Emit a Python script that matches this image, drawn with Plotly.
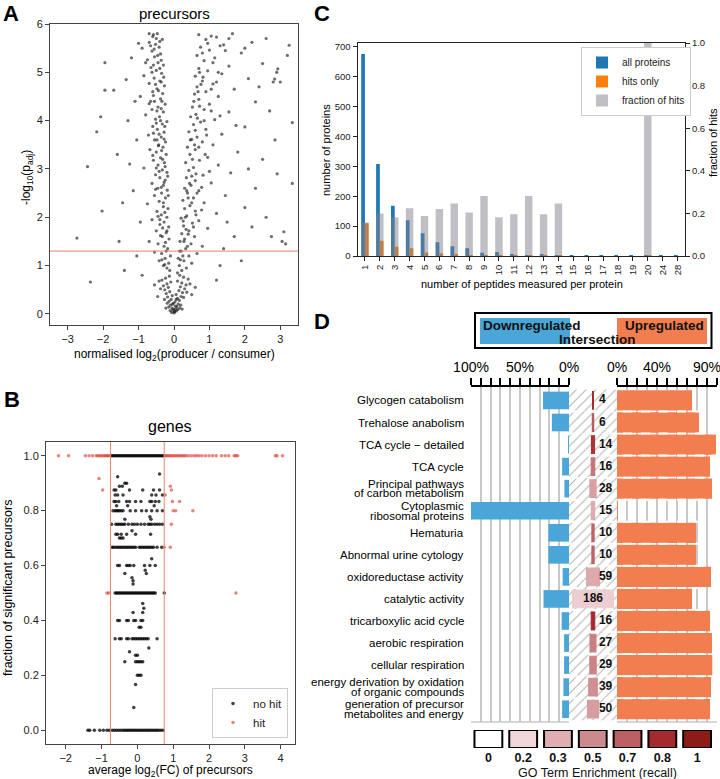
import plotly.graph_objects as go
from plotly.colors import sample_colorscale

# ---------------- panel A: precursors volcano ----------------
base_cluster = [
    (0.0, 0.02), (0.02, 0.05), (-0.03, 0.08), (0.05, 0.1), (-0.06, 0.12), (0.08, 0.15), (-0.1, 0.18),
    (0.12, 0.2), (-0.02, 0.22), (0.03, 0.25), (-0.14, 0.26), (0.15, 0.28), (-0.08, 0.3), (0.1, 0.32),
    (-0.18, 0.35), (0.2, 0.36), (-0.05, 0.38), (0.06, 0.4), (-0.22, 0.42), (0.24, 0.44), (-0.12, 0.46),
    (0.14, 0.48), (-0.26, 0.5), (0.3, 0.52), (-0.16, 0.55), (0.18, 0.56), (-0.3, 0.58), (0.34, 0.6),
    (-0.2, 0.62), (0.22, 0.64), (-0.09, 0.66), (0.1, 0.68), (-0.34, 0.7), (0.4, 0.72), (-0.24, 0.74),
    (0.27, 0.76), (-0.13, 0.78), (0.16, 0.8), (0.01, 0.04), (-0.01, 0.1), (0.04, 0.16), (-0.04, 0.2),
    (0.07, 0.06), (-0.07, 0.03), (0.11, 0.09), (-0.11, 0.07), (0.16, 0.12), (-0.15, 0.14), (0.19, 0.18),
    (-0.19, 0.22), (0.23, 0.1), (-0.23, 0.12), (0.06, 0.3), (-0.27, 0.3), (0.27, 0.34), (0.36, 0.45),
    (-0.38, 0.52), (0.45, 0.62), (-0.42, 0.68), (0.5, 0.4), (-0.46, 0.36), (0.6, 0.55), (-0.55, 0.6),
]
left_arm = [
    (-0.12, 0.9), (-0.2, 0.95), (-0.3, 1.0), (-0.15, 1.05), (-0.42, 1.1), (-0.25, 1.15), (-0.1, 1.2),
    (-0.35, 1.25), (-0.55, 1.28), (-0.18, 1.35), (-0.28, 1.4), (-0.45, 1.45), (-0.7, 1.5),
    (-0.14, 1.55), (-0.33, 1.6), (-0.22, 1.68), (-0.5, 1.72), (-0.15, 1.8), (-0.4, 1.85), (-0.28, 1.9),
    (-0.62, 1.95), (-0.2, 2.0), (-0.36, 2.05), (-0.48, 2.12), (-0.17, 2.18), (-0.3, 2.22), (-0.75, 2.28),
    (-0.42, 2.33), (-0.24, 2.4), (-0.55, 2.45), (-0.35, 2.5),
    (-0.19, 2.56), (-0.46, 2.6), (-0.3, 2.66), (-0.62, 2.7), (-0.25, 2.77), (-0.4, 2.82), (-0.52, 2.88),
    (-0.2, 2.93), (-0.33, 2.98), (-0.85, 3.02), (-0.45, 3.08), (-0.27, 3.13), (-0.58, 3.18), (-0.38, 3.23),
    (-0.22, 3.3), (-0.5, 3.35), (-0.68, 3.4), (-0.31, 3.45), (-0.43, 3.5),
    (-0.24, 3.56), (-0.55, 3.6), (-0.36, 3.66), (-0.72, 3.7), (-0.28, 3.76), (-0.47, 3.82), (-0.6, 3.88),
    (-0.33, 3.93), (-0.2, 3.98), (-0.52, 4.03), (-0.41, 4.08), (-0.8, 4.12), (-0.3, 4.18), (-0.62, 4.23),
    (-0.45, 4.28), (-0.25, 4.34), (-0.55, 4.4), (-0.38, 4.45), (-0.95, 4.5),
    (-0.32, 4.56), (-0.6, 4.6), (-0.48, 4.66), (-0.27, 4.72), (-0.7, 4.77), (-0.4, 4.82), (-0.56, 4.88),
    (-0.85, 4.93), (-0.35, 4.98), (-0.5, 5.04), (-0.65, 5.1), (-0.3, 5.15), (-0.45, 5.2), (-0.75, 5.26),
    (-0.55, 5.32), (-0.38, 5.38), (-0.62, 5.44), (-0.9, 5.5), (-0.42, 5.52), (-0.52, 5.58), (-0.7, 5.62),
    (-0.33, 5.68), (-0.6, 5.74), (-0.47, 5.8),
    (-1.05, 1.2), (-0.95, 1.9), (-1.15, 2.55), (-1.25, 3.1), (-1.05, 3.6), (-1.3, 4.0), (-1.1, 4.4),
    (-1.35, 4.85), (-1.2, 5.3), (-1.0, 5.6), (-1.45, 2.3), (-1.55, 1.5), (-1.6, 3.3), (-1.4, 0.9), (-0.9, 0.8),
    (-0.26, 1.02), (-0.38, 1.62), (-0.3, 2.3), (-0.42, 2.95), (-0.35, 3.38), (-0.5, 3.95), (-0.58, 4.52),
    (-0.4, 5.08), (-0.66, 5.55), (-0.22, 1.3), (-0.45, 2.02), (-0.28, 2.72), (-0.6, 3.28), (-0.42, 3.72),
    (-0.36, 4.25), (-0.52, 4.75), (-0.8, 5.2), (-0.5, 5.7), (-0.32, 1.78), (-0.52, 2.58), (-0.48, 3.6),
    (-0.7, 4.35), (-0.62, 5.0), (-0.58, 5.78), (-0.18, 2.85), (-0.26, 3.88), (-0.29, 4.9),
    (-0.34, 1.12), (-0.24, 1.48), (-0.4, 1.95), (-0.26, 2.1), (-0.36, 2.62), (-0.5, 3.02), (-0.32, 3.2),
    (-0.44, 3.48), (-0.58, 3.74), (-0.38, 4.0), (-0.48, 4.2), (-0.66, 4.4), (-0.44, 4.62), (-0.36, 4.8),
    (-0.58, 5.15), (-0.46, 5.35), (-0.56, 5.48), (-0.4, 5.64), (-0.7, 5.8), (-0.2, 1.72), (-0.16, 2.45),
    (-0.25, 3.05), (-0.28, 3.62), (-0.34, 4.4), (-0.36, 5.25),
]
right_arm = [
    (0.1, 0.85), (0.22, 0.9), (0.35, 0.95), (0.15, 1.0), (0.5, 1.05), (0.28, 1.1), (0.12, 1.15),
    (0.42, 1.2), (0.65, 1.25), (0.2, 1.3), (0.33, 1.35), (0.8, 1.4), (0.48, 1.45), (0.17, 1.5),
    (0.3, 1.55), (0.58, 1.6), (0.22, 1.66), (0.42, 1.72), (0.95, 1.77), (0.27, 1.82), (0.52, 1.88),
    (0.7, 1.93), (0.2, 1.98), (0.36, 2.03), (1.2, 2.08), (0.6, 2.13), (0.3, 2.18), (0.45, 2.24),
    (0.85, 2.3), (0.25, 2.35), (0.55, 2.4), (1.45, 2.45), (0.38, 2.5),
    (0.7, 2.55), (0.3, 2.6), (0.48, 2.66), (1.05, 2.71), (0.6, 2.76), (0.35, 2.82), (0.82, 2.87),
    (1.6, 2.92), (0.42, 2.97), (0.55, 3.03), (1.25, 3.08), (0.33, 3.13), (0.72, 3.18), (0.95, 3.24),
    (0.45, 3.3), (1.8, 3.35), (0.6, 3.4), (0.38, 3.45), (1.1, 3.5),
    (0.8, 3.56), (0.5, 3.61), (0.65, 3.66), (1.35, 3.72), (0.42, 3.77), (0.9, 3.82), (2.0, 3.87),
    (0.55, 3.92), (0.75, 3.97), (1.15, 4.02), (0.47, 4.08), (0.62, 4.13), (1.55, 4.18), (0.85, 4.23),
    (0.52, 4.28), (1.0, 4.34), (2.3, 4.39), (0.7, 4.44), (1.25, 4.5),
    (0.58, 4.55), (0.9, 4.6), (1.7, 4.65), (0.65, 4.7), (1.1, 4.76), (0.8, 4.82), (2.1, 4.87),
    (0.6, 4.92), (1.35, 4.97), (0.95, 5.03), (0.7, 5.08), (1.55, 5.13), (2.5, 5.18), (0.85, 5.24),
    (1.15, 5.3), (0.65, 5.35), (1.9, 5.4), (1.0, 5.46), (0.75, 5.52), (1.4, 5.57), (2.2, 5.62),
    (0.9, 5.68), (1.2, 5.73), (0.7, 5.78), (1.65, 5.8), (2.6, 5.7),
    (1.3, 1.0), (1.7, 1.6), (2.0, 2.2), (2.3, 2.6), (1.4, 1.35), (2.5, 3.2), (2.1, 3.0), (2.7, 4.2),
    (2.4, 4.7), (2.0, 5.5), (1.75, 3.9), (1.5, 1.9), (1.9, 1.1), (1.2, 0.7), (2.2, 1.8), (2.9, 5.0),
    (2.8, 4.8), (2.6, 2.0), (2.75, 1.6), (3.1, 1.7), (3.05, 1.5), (2.85, 3.6),
    (0.25, 1.2), (0.4, 1.65), (0.5, 2.3), (0.62, 2.9), (0.7, 3.45), (0.85, 4.0), (1.05, 4.65),
    (1.1, 5.2), (0.38, 1.4), (0.32, 2.0), (0.44, 2.7), (0.52, 3.2), (0.6, 3.8), (0.72, 4.3),
    (0.82, 4.9), (0.95, 5.6), (0.18, 1.12), (0.28, 1.5), (0.65, 2.5), (0.88, 3.3), (1.3, 4.1),
    (1.25, 5.0), (1.55, 5.7), (0.55, 1.8), (0.78, 2.15), (1.0, 2.95), (0.68, 4.6), (1.45, 5.45),
    (0.34, 1.75), (0.4, 2.4), (0.5, 2.85), (0.58, 3.5), (0.66, 4.05), (0.76, 4.75), (0.8, 5.4),
    (0.26, 1.92), (0.36, 2.55), (0.46, 3.6), (0.56, 4.4), (0.72, 5.0), (1.05, 5.75), (0.16, 1.3),
    (0.62, 2.05), (0.78, 2.62), (0.92, 3.7), (1.05, 4.2), (1.2, 4.8), (1.3, 5.55),
]
outliers_a = [
    (-2.74, 1.57), (-2.44, 3.05), (-2.36, 0.66), (-2.03, 2.13), (-2.07, 4.08), (-2.18, 3.77),
    (-1.95, 4.63), (-1.7, 4.63), (-1.95, 5.2), (3.34, 3.96), (3.34, 2.7), (3.25, 5.56), (2.93, 5.07),
    (2.84, 4.86), (2.91, 2.9), (3.2, 5.35), (3.0, 4.8), (3.15, 1.45),
]
padj_cutoff = 1.3

# ---------------- panel B: genes (fraction of significant precursors) ----------------
nohit_rows = [
    (1.0, [-0.72, -0.68, -0.64, -0.6, -0.56, -0.52, -0.48, -0.44, -0.4, -0.36, -0.32, -0.28, -0.24, -0.2,
           -0.16, -0.12, -0.08, -0.04, 0.0, 0.04, 0.08, 0.12, 0.16, 0.2, 0.24, 0.28, 0.32, 0.36, 0.4,
           0.44, 0.48, 0.52, 0.56, 0.6, 0.64, 0.68, 0.72]),
    (0.933, [0.62]), (0.923, [-0.55]), (0.9, [-0.35, -0.3]), (0.889, [-0.5, -0.42]),
    (0.875, [-0.65, -0.6, -0.22, 0.15, 0.45, 0.62]),
    (0.857, [-0.62, -0.55, -0.4, 0.4, 0.52, 0.7]),
    (0.833, [-0.65, -0.6, -0.52, -0.3, -0.22, -0.05, 0.1, 0.35, 0.4, 0.5, 0.6]),
    (0.818, [-0.58, -0.27, 0.47]),
    (0.8, [-0.68, -0.62, -0.58, -0.54, -0.5, -0.45, -0.4, -0.2, -0.05, 0.12, 0.25, 0.4, 0.55, 0.7]),
    (0.778, [0.35]), (0.769, [0.38, -0.35]),
    (0.75, [-0.72, -0.6, -0.55, -0.5, -0.45, -0.4, -0.35, -0.25, -0.15, -0.08, 0.0, 0.1, 0.2, 0.3, 0.35,
            0.4, 0.48, 0.55, 0.62, 0.7]),
    (0.727, [-0.15]), (0.714, [-0.6, -0.55, -0.45, -0.3, -0.05, 0.37]), (0.7, [-0.5, -0.45, -0.4]),
    (0.667, [-0.7, -0.66, -0.6, -0.55, -0.5, -0.45, -0.4, -0.35, -0.3, -0.25, -0.2, -0.15, -0.1, -0.05,
             0.05, 0.1, 0.15, 0.2, 0.25, 0.3, 0.35, 0.4, 0.45, 0.55, 0.68]),
    (0.625, [0.4]), (0.6, [-0.55, -0.5, -0.3, -0.25, -0.2, -0.1, 0.2, 0.35, 0.5]),
    (0.583, [0.22]), (0.571, [-0.35, 0.25]), (0.556, [-0.15]), (0.545, [-0.12]), (0.533, [-0.12]),
    (0.5, [-0.62, -0.58, -0.54, -0.5, -0.46, -0.42, -0.38, -0.34, -0.3, -0.26, -0.22, -0.18, -0.14, -0.1,
           -0.06, -0.02, 0.02, 0.06, 0.1, 0.14, 0.18, 0.22, 0.26, 0.3, 0.34, 0.38, 0.42, 0.46, 0.5, 0.75]),
    (0.462, [0.15]), (0.444, [0.18]), (0.429, [-0.12, 0.15]),
    (0.4, [-0.55, -0.5, -0.3, -0.25, -0.1, -0.05, 0.1, 0.15]), (0.375, [0.05, 0.1]),
    (0.333, [-0.62, -0.5, -0.45, -0.3, -0.25, -0.15, -0.1, -0.05, 0.0, 0.05, 0.1, 0.15, 0.2, 0.25, 0.3, 0.55]),
    (0.3, [0.32]), (0.286, [-0.22]), (0.273, [-0.05, 0.0]), (0.25, [-0.35, -0.05, 0.0, 0.05, 0.1, 0.15]),
    (0.2, [0.0, 0.05, 0.1]), (0.167, [-0.05]), (0.083, [-0.1]),
    (0.0, [-1.38, -1.33, -1.2, -1.05, -0.95, -0.85, -0.78, -0.7, -0.64, -0.58, -0.52, -0.46, -0.4, -0.35,
           -0.3, -0.25, -0.2, -0.15, -0.1, -0.05, 0.0, 0.05, 0.1, 0.15, 0.2, 0.25, 0.3, 0.35, 0.4, 0.45,
           0.5, 0.55, 0.6, 0.66, 0.72]),
]
hit_rows = [
    (1.0, [-2.2, -1.92, -1.45, -1.35, -1.25, -1.15, -1.1, -1.05, -1.0, -0.95, -0.9, -0.86, -0.82, -0.78,
           0.78, 0.82, 0.86, 0.9, 0.95, 1.0, 1.05, 1.1, 1.15, 1.2, 1.25, 1.3, 1.35, 1.42, 1.5, 1.58, 1.65,
           1.72, 1.8, 1.9, 2.0, 2.1, 2.2, 2.35, 2.45, 2.55, 2.7, 2.75, 2.8, 3.85, 3.9, 4.05]),
    (0.917, [-1.07]), (0.889, [0.92]), (0.875, [-0.97, 0.95]), (0.857, [0.78]), (0.833, [0.98, 1.18]),
    (0.8, [1.0, 1.07, 1.55]), (0.75, [0.95]), (0.667, [0.75, 0.92]), (0.5, [-0.85, -0.8, 2.75]),
]
fc_cutoff = 0.75

# ---------------- panel C: peptides per protein ----------------
peptide_bins = ["1", "2", "3", "4", "5", "6", "7", "8", "9", "10", "11", "12", "13", "14", "15",
                "16", "17", "18", "19", "20", "24", "28"]
all_proteins = [676, 308, 168, 120, 76, 46, 33, 26, 11, 13, 7, 3, 7, 2, 1, 1, 1, 1, 1, 1, 1, 1]
hits_only = [110, 51, 31, 26, 12, 9, 6, 3, 2, 2, 1, 1, 1, 1, 0, 0, 0, 0, 0, 1, 0, 0]
fraction_hits = [0.157, 0.2, 0.182, 0.224, 0.188, 0.221, 0.246, 0.204, 0.282, 0.182, 0.196, 0.282,
                 0.196, 0.246, 0, 0, 0, 0, 0, 1.0, 0, 0]

# ---------------- panel D: GO term enrichment ----------------
go_terms = ["Glycogen catabolism", "Trehalose anabolism", "TCA cycle − detailed", "TCA cycle",
            "Principal pathways<br>of carbon metabolism", "Cytoplasmic<br>ribosomal proteins", "Hematuria",
            "Abnormal urine cytology", "oxidoreductase activity", "catalytic activity",
            "tricarboxylic acid cycle", "aerobic respiration", "cellular respiration",
            "energy derivation by oxidation<br>of organic compounds",
            "generation of precursor<br>metabolites and energy"]
down_pct = [26.5, 17.5, 1, 7, 4.7, 100, 21, 21, 6.5, 26, 7.5, 5, 5, 5.7, 7]
up_pct = [75, 82, 99, 93, 95, 1, 79, 79, 94, 75, 93, 95, 95.3, 94, 93]
term_size = [4, 6, 14, 16, 28, 15, 10, 10, 59, 186, 16, 27, 29, 39, 50]
term_recall = [0.8, 0.72, 0.78, 0.6, 0.38, 0.32, 0.68, 0.68, 0.33, 0.22, 0.8, 0.55, 0.53, 0.47, 0.4]
recall_ticks = [0, 0.2, 0.3, 0.5, 0.7, 0.8, 1]
recall_labels = ["0", "0.2", "0.3", "0.5", "0.7", "0.8", "1"]
recall_colors = ["#ffffff", "#f0d6d8", "#e0aeb1", "#cd8a8d", "#bc5f62", "#a52a2f", "#8d1c19"]

W, H = 720, 779
FONT = "Liberation Sans, Arial, sans-serif"
BLUE = "#4aa6d6"
ORANGE = "#f27d4f"
SALMON = "#e8846c"


def px(x):
    return x / W


def py(y):
    return 1 - y / H


fig = go.Figure()

# ---- A ----
pts_a = base_cluster + left_arm + right_arm + outliers_a
fig.add_trace(go.Scatter(
    x=[p[0] for p in pts_a], y=[p[1] for p in pts_a], mode="markers",
    marker=dict(size=3.2, color="rgba(30,30,30,0.65)", line_width=0), xaxis="x", yaxis="y",
    showlegend=False))
fig.add_shape(type="line", xref="x domain", x0=0, x1=1, yref="y", y0=padj_cutoff, y1=padj_cutoff,
              line=dict(color=SALMON, width=1))

# ---- B ----
nh_x = [x for yv, xs in nohit_rows for x in xs]
nh_y = [yv for yv, xs in nohit_rows for x in xs]
h_x = [x for yv, xs in hit_rows for x in xs]
h_y = [yv for yv, xs in hit_rows for x in xs]
fig.add_trace(go.Scatter(x=nh_x, y=nh_y, mode="markers", name="no hit", legend="legend2",
                         marker=dict(size=3.5, color="rgba(0,0,0,0.75)", line_width=0),
                         xaxis="x2", yaxis="y2"))
fig.add_trace(go.Scatter(x=h_x, y=h_y, mode="markers", name="hit", legend="legend2",
                         marker=dict(size=3.5, color="rgba(220,50,40,0.6)", line_width=0),
                         xaxis="x2", yaxis="y2"))
for c in (-fc_cutoff, fc_cutoff):
    fig.add_shape(type="line", xref="x2", x0=c, x1=c, yref="y2 domain", y0=0, y1=1,
                  line=dict(color=SALMON, width=1))

# ---- C ----
fig.add_trace(go.Bar(x=peptide_bins, y=all_proteins, name="all proteins", width=0.25, offset=-0.25,
                     marker=dict(color="#1f77b4", line_width=0), xaxis="x3", yaxis="y3"))
fig.add_trace(go.Bar(x=peptide_bins, y=hits_only, name="hits only", width=0.25, offset=0,
                     marker=dict(color="#ff7f0e", line_width=0), xaxis="x3", yaxis="y3"))
fig.add_trace(go.Bar(x=peptide_bins, y=fraction_hits, name="fraction of hits", width=0.5, offset=-0.25,
                     marker=dict(color="rgba(128,128,140,0.5)", line_width=0), xaxis="x3", yaxis="y4"))

# ---- D ----
n = len(go_terms)
rows = list(range(n))
recall_scale = [[t, c] for t, c in zip(recall_ticks, recall_colors)]
term_colors = sample_colorscale(recall_scale, term_recall)

fig.add_trace(go.Bar(x=down_pct, y=rows, orientation="h", base=0, width=0.8,
                     marker=dict(color=BLUE, line_width=0), xaxis="x4", yaxis="y5", showlegend=False))
fig.add_trace(go.Bar(x=[218] * n, y=rows, orientation="h", base=-109, width=1.0,
                     marker=dict(color="white", line_width=0,
                                 pattern=dict(shape="/", fgcolor="#b4b4b4", bgcolor="white",
                                              size=7, solidity=0.15, fillmode="replace")),
                     xaxis="x5", yaxis="y5", showlegend=False))
fig.add_trace(go.Bar(x=term_size, y=rows, orientation="h", base=[-s / 2 for s in term_size], width=0.8,
                     marker=dict(color=term_colors, line=dict(color=term_colors, width=1.1)),
                     xaxis="x5", yaxis="y5", showlegend=False))
fig.add_trace(go.Scatter(
    x=[0 if s >= 100 else 27 for s in term_size], y=rows, mode="text",
    text=[f"<b>{s}</b>" for s in term_size],
    textposition=["middle center" if s >= 100 else "middle right" for s in term_size],
    textfont=dict(size=12, color="#111", family=FONT), xaxis="x5", yaxis="y5", showlegend=False))
fig.add_trace(go.Bar(x=up_pct, y=rows, orientation="h", base=0, width=0.92,
                     marker=dict(color=ORANGE, line_width=0), xaxis="x6", yaxis="y5", showlegend=False))

# recall swatches
fig.add_trace(go.Bar(x=recall_labels, y=[1] * len(recall_labels), base=0, width=0.8,
                     marker=dict(color=recall_colors, line=dict(color="black", width=2)),
                     xaxis="x7", yaxis="y6", showlegend=False))

for i in range(n - 1):
    fig.add_shape(type="line", xref="paper", x0=px(569), x1=px(717), yref="y5", y0=i + 0.5, y1=i + 0.5,
                  line=dict(color="white", width=2, dash="dash"))
for x0, x1 in ((471, 569), (617, 717)):
    fig.add_shape(type="line", xref="paper", x0=px(x0), x1=px(x1), yref="paper", y0=py(722), y1=py(722),
                  line=dict(color="#c8c8c8", width=1.5))

# D legend box
fig.add_shape(type="rect", xref="paper", yref="paper", x0=px(480), x1=px(570), y0=py(344), y1=py(318),
              fillcolor=BLUE, line_width=0)
fig.add_shape(type="rect", xref="paper", yref="paper", x0=px(617), x1=px(707), y0=py(344), y1=py(318),
              fillcolor=ORANGE, line_width=0)
fig.add_shape(type="rect", xref="paper", yref="paper", x0=px(475), x1=px(711.5), y0=py(348), y1=py(313),
              line=dict(color="black", width=2))

annotations = []


def note(x, y, text, size=12, anchor="center", angle=0, bold=False, color="black"):
    annotations.append(dict(
        x=px(x), y=py(y), xref="paper", yref="paper", text=f"<b>{text}</b>" if bold else text,
        showarrow=False, xanchor=anchor, yanchor="middle", textangle=angle,
        font=dict(family=FONT, size=size, color=color)))


note(11, 14, "A", 22, bold=True)
note(12, 399, "B", 22, bold=True)
note(322, 14, "C", 22, bold=True)
note(322, 321, "D", 22, bold=True)
note(174, 14, "precursors", 15)
note(170, 426, "genes", 16)
note(174, 355, "normalised log<sub>2</sub>(producer / consumer)", 12)
note(27, 178, "-log<sub>10</sub>(p<sub>adj</sub>)", 12, angle=-90)
note(170, 771, "average log<sub>2</sub>(FC) of precursors", 12)
note(8, 588, "fraction of significant precursors", 12.5, angle=-90)
note(326, 150, "number of proteins", 11, angle=-90)
note(713, 143, "fraction of hits", 11, angle=-90)
note(522, 284, "number of peptides measured per protein", 11)
note(481, 325, "Downregulated", 13.5, anchor="left", bold=True, color="#111")
note(706, 325, "Upregulated", 13.5, anchor="right", bold=True, color="#111")
note(597, 339.5, "Intersection", 13.5, bold=True, color="#111")
note(597, 772.5, "GO Term Enrichment (recall)", 12.5, color="#111")

# row labels of panel D (two-line labels set tight like the original)
for i, term in enumerate(go_terms):
    lines = term.split("<br>")
    for j, line in enumerate(lines):
        shift = (len(lines) - 1) * 4.8 - j * 9.6
        annotations.append(dict(x=px(466), xref="paper", y=i, yref="y5", text=line, showarrow=False,
                                xanchor="right", yanchor="middle", yshift=shift,
                                font=dict(family=FONT, size=11.5, color="black")))

tickstyle = dict(ticks="outside", ticklen=4, tickwidth=1, tickcolor="#444", showline=True, mirror=True,
                 linecolor="#444", linewidth=1, showgrid=False, zeroline=False, automargin=False,
                 tickfont=dict(family=FONT, size=11, color="#222"))
cstyle = dict(ticks="outside", ticklen=4, tickwidth=1, tickcolor="#222", showline=True, linecolor="#222",
              linewidth=1, showgrid=False, zeroline=False, automargin=False,
              tickfont=dict(family=FONT, size=9.5, color="#222"))
dstyle = dict(side="top", showline=True, linecolor="black", linewidth=2, ticks="outside", ticklen=7,
              tickwidth=1.5, tickcolor="black", showgrid=True, gridcolor="#c8c8c8", gridwidth=1.5,
              zeroline=False, automargin=False, ticklabeloverflow="allow",
              tickfont=dict(family=FONT, size=14, color="black"),
              minor=dict(dtick=10, tick0=0, ticks="outside", ticklen=7, tickwidth=1.5, tickcolor="black",
                         showgrid=True, gridcolor="#c8c8c8", gridwidth=1.5))

fig.update_layout(
    template="none",
    width=W, height=H, margin=dict(l=0, r=0, t=0, b=0, autoexpand=False),
    paper_bgcolor="white", plot_bgcolor="white", barmode="overlay", hovermode=False,
    font=dict(family=FONT, color="black"),
    xaxis=dict(domain=[px(50), px(298)], range=[-3.5, 3.5], dtick=1, anchor="y", **tickstyle),
    yaxis=dict(domain=[py(325), py(24)], range=[-0.23, 6.0], dtick=1, anchor="x", **tickstyle),
    xaxis2=dict(domain=[px(46), px(295)], range=[-2.55, 4.4], dtick=1, anchor="y2", **tickstyle),
    yaxis2=dict(domain=[py(744), py(442)], range=[-0.05, 1.05], dtick=0.2, tickformat=".1f",
                anchor="x2", **tickstyle),
    xaxis3=dict(domain=[px(357.5), px(685)], type="category", range=[-0.5, 21.5], tickangle=-90,
                anchor="y3", mirror=True, **cstyle),
    yaxis3=dict(domain=[py(256), py(43)], range=[0, 713], dtick=100, anchor="x3", **cstyle),
    yaxis4=dict(overlaying="y3", side="right", range=[0, 1.0], dtick=0.2, tickformat=".1f", anchor="x3",
                **cstyle),
    xaxis4=dict(domain=[px(471), px(569)], range=[100, 0], anchor="y5", tickvals=[100, 50, 0],
                ticktext=["100%", "50%", "0%"], **dstyle),
    xaxis5=dict(domain=[px(569), px(617)], range=[-109, 109], anchor="y5", visible=False),
    xaxis6=dict(domain=[px(617), px(717)], range=[0, 100], anchor="y5", tickvals=[0, 40, 90],
                ticktext=["0%", "40%", "90%"], **dstyle),
    yaxis5=dict(domain=[py(722), py(387)], range=[14.58, -0.61], anchor="x4", visible=False),
    xaxis7=dict(domain=[px(471), px(714.5)], type="category", range=[-0.5, 6.5], anchor="y6",
                showline=False, showgrid=False, zeroline=False, ticks="", automargin=False,
                tickfont=dict(family=FONT, size=12.5, color="#111", weight="bold")),
    yaxis6=dict(domain=[py(748), py(730)], range=[0, 1], anchor="x7", visible=False),
    legend=dict(x=px(581), y=py(47), xanchor="left", yanchor="top", bordercolor="#cccccc",
                borderwidth=1, bgcolor="white", font=dict(family=FONT, size=10, color="#222"),
                tracegroupgap=0, itemwidth=30),
    legend2=dict(x=px(288), y=py(738), xanchor="right", yanchor="bottom", bordercolor="#cccccc",
                 borderwidth=1, bgcolor="white", font=dict(family=FONT, size=11.5, color="#222"),
                 itemwidth=30),
    annotations=annotations,
)

# the page body has a default 8px margin; drop it so the figure fills the window exactly
fig.write_html("out.html", config={"displayModeBar": False},
               post_script="document.body.style.margin = '0';")
